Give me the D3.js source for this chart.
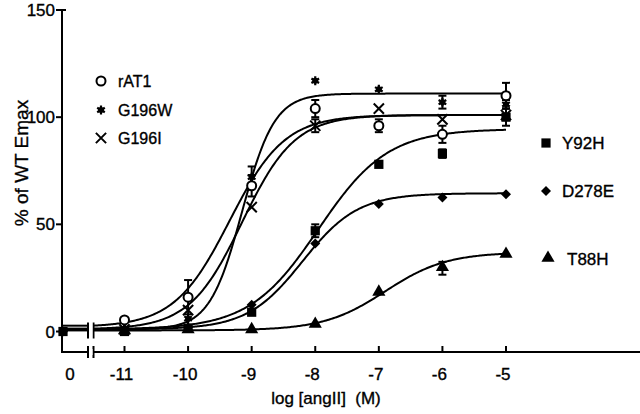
<!DOCTYPE html>
<html><head><meta charset="utf-8">
<script src="https://cdn.jsdelivr.net/npm/d3@7"></script>
<style>html,body{margin:0;padding:0;background:#fff;}svg{display:block;}text{font-family:"Liberation Sans",Arial,sans-serif;fill:#000;stroke:#000;stroke-width:0.35px;}</style>
</head><body>
<svg id="c" width="640" height="414"></svg>
<script>
// ---- data ----
const logConc = [-11, -10, -9, -8, -7, -6, -5];
const xTickLabels = ["0", "-11", "-10", "-9", "-8", "-7", "-6", "-5"];
const yTicks = [0, 50, 100, 150];
const seriesNames = ["rAT1", "G196W", "G196I", "Y92H", "D278E", "T88H"];
const rAT1  = [5.4, 16, 68, 104, 96, 92, 110];
const G196W = [1, 6, 72, 117, 113, 107, 106];
const G196I = [1, 10, 58, 96, 104, 99, 101];
const Y92H  = [0, 1.5, 9, 47, 78, 83, 100];
const D278E = [0.5, 2, 12.5, 41, 59.5, 62.5, 64];
const T88H  = [0, 0.5, 0.5, 3, 18, 29.5, 35.7];
const rAT1Err  = [0, 8, 5, 4, 3, 4, 6];
const G196WErr = [0, 0, 5, 0, 0, 3, 2];
const G196IErr = [0, 0, 0, 3, 0, 0, 0];
const Y92HErr  = [0, 0, 0, 3, 0, 2, 4];
const D278EErr = [0, 0, 0, 0, 0, 0, 0];
const T88HErr  = [0, 0, 0, 0, 0, 3, 0];
const zeroDoseValues = [null, null, null, 0, 0, null];
// fitted dose-response curves (bottom, top, logEC50, Hill slope) estimated from the drawn lines
const fitBottom = [2, 1, 1, 1, 1, 0.5];
const fitTop    = [101, 111, 101, 94.5, 64.5, 37];
const fitLogEC50 = [-9.35, -9.15, -9.15, -7.95, -8.2, -6.9];
const fitHill   = [1.0, 1.7, 1.05, 0.8, 1.0, 0.9];

const values = [rAT1, G196W, G196I, Y92H, D278E, T88H];
const errors = [rAT1Err, G196WErr, G196IErr, Y92HErr, D278EErr, T88HErr];

const svg = d3.select("#c");
const x = d3.scaleLinear().domain([-11, -5]).range([124.5, 506]);
const y = d3.scaleLinear().domain([0, 150]).range([331.5, 10]);
const axisX = 62, axisY = 352;
const zeroPos = x.invert(70);       // "0" label position
const breakA = x.invert(88), breakB = x.invert(93.5);
const zeroDoseX = x.invert(axisX + 1);

// axes
svg.append("line").attr("x1", axisX).attr("x2", axisX).attr("y1", y(150)).attr("y2", axisY)
  .attr("stroke", "#000").attr("stroke-width", 2);
svg.append("line").attr("x1", axisX - 1).attr("x2", x(breakA)).attr("y1", axisY).attr("y2", axisY)
  .attr("stroke", "#000").attr("stroke-width", 2);
svg.append("line").attr("x1", x(breakB)).attr("x2", 640).attr("y1", axisY).attr("y2", axisY)
  .attr("stroke", "#000").attr("stroke-width", 2);
[breakA, breakB].forEach(b => {
  svg.append("line").attr("x1", x(b)).attr("x2", x(b)).attr("y1", axisY - 6).attr("y2", axisY + 6)
    .attr("stroke", "#000").attr("stroke-width", 2);
  svg.append("line").attr("x1", x(b)).attr("x2", x(b)).attr("y1", y(0) - 9).attr("y2", y(0) + 7)
    .attr("stroke", "#000").attr("stroke-width", 2);
});
// y ticks
yTicks.forEach(t => {
  svg.append("line").attr("x1", axisX - 6).attr("x2", axisX).attr("y1", y(t)).attr("y2", y(t))
    .attr("stroke", "#000").attr("stroke-width", 2);
  svg.append("text").attr("x", axisX - 7).attr("y", y(t)).attr("dy", "0.36em")
    .attr("text-anchor", "end").attr("font-size", 17).text(t);
});
svg.append("line").attr("x1", axisX).attr("x2", axisX + 4).attr("y1", y(150)).attr("y2", y(150))
  .attr("stroke", "#000").attr("stroke-width", 2);
// x ticks
const xTickPos = [zeroPos].concat(logConc);
xTickPos.forEach((v, i) => {
  if (i > 0) svg.append("line").attr("x1", x(v)).attr("x2", x(v)).attr("y1", axisY - 6).attr("y2", axisY)
    .attr("stroke", "#000").attr("stroke-width", 2);
  svg.append("text").attr("x", x(v) - (i > 0 ? 3 : 0)).attr("y", 380).attr("text-anchor", "middle")
    .attr("font-size", 17).text(xTickLabels[i]);
});
svg.append("text").attr("x", 326).attr("y", 404).attr("text-anchor", "middle").attr("font-size", 17)
  .attr("xml:space", "preserve").text("log [angII]  (M)");
svg.append("text").attr("transform", "translate(28,163) rotate(-90)").attr("text-anchor", "middle")
  .attr("font-size", 19).text("% of WT Emax");

// curves
const hill = i => v => fitBottom[i] + (fitTop[i] - fitBottom[i]) / (1 + Math.pow(10, fitHill[i] * (fitLogEC50[i] - v)));
const line = d3.line().x(d => x(d[0])).y(d => y(d[1])).curve(d3.curveLinear);
seriesNames.forEach((n, i) => {
  const f = hill(i);
  const pts = d3.range(breakB, -5.0001, 0.02).map(v => [v, f(v)]).concat([[-5, f(-5)]]);
  svg.append("path").attr("d", line(pts)).attr("fill", "none").attr("stroke", "#000").attr("stroke-width", 2);
  const y0 = f(breakB);
  svg.append("path").attr("d", line([[zeroDoseX - 0.02, y0], [breakA, y0]])).attr("fill", "none")
    .attr("stroke", "#000").attr("stroke-width", 2);
});
// white gap over break
svg.append("rect").attr("x", x(breakA) + 1).attr("width", x(breakB) - x(breakA) - 2)
  .attr("y", y(0) - 10).attr("height", 20).attr("fill", "#fff");
svg.append("rect").attr("x", x(breakA) + 1).attr("width", x(breakB) - x(breakA) - 2)
  .attr("y", axisY - 3).attr("height", 6).attr("fill", "#fff");

// markers
function marker(g, i, cx, cy) {
  const s = g.append("g").attr("transform", `translate(${cx},${cy})`);
  if (i === 0) s.append("circle").attr("r", 4.5).attr("fill", "#fff").attr("stroke", "#000").attr("stroke-width", 2);
  else if (i === 1) {
    s.append("path").attr("d", d3.symbol(d3.symbolAsterisk, 55)()).attr("fill", "none")
      .attr("stroke", "#000").attr("stroke-width", 2.2);
    s.append("circle").attr("r", 3).attr("fill", "#000");
  }
  else if (i === 2) s.append("path").attr("d", d3.symbol(d3.symbolTimes, 70)()).attr("fill", "none")
      .attr("stroke", "#000").attr("stroke-width", 2);
  else if (i === 3) s.append("path").attr("d", d3.symbol(d3.symbolSquare, 85)()).attr("fill", "#000");
  else if (i === 4) s.append("path").attr("d", d3.symbol(d3.symbolSquare, 50)()).attr("transform", "rotate(45)").attr("fill", "#000");
  else s.append("path").attr("d", d3.symbol(d3.symbolTriangle, 75)()).attr("transform", "translate(0,-1)").attr("fill", "#000");
}
const gm = svg.append("g");
// draw filled ones first so open circles stay visible
[3, 4, 5, 2, 1, 0].forEach(i => {
  values[i].forEach((v, k) => {
    const e = errors[i][k];
    if (e > 0) {
      const cx = x(logConc[k]);
      gm.append("line").attr("x1", cx).attr("x2", cx).attr("y1", y(v + e)).attr("y2", y(v - e))
        .attr("stroke", "#000").attr("stroke-width", 2);
      [v + e, v - e].forEach(w => gm.append("line").attr("x1", cx - 4).attr("x2", cx + 4)
        .attr("y1", y(w)).attr("y2", y(w)).attr("stroke", "#000").attr("stroke-width", 2));
    }
    marker(gm, i, x(logConc[k]), y(v));
  });
  if (zeroDoseValues[i] !== null) marker(gm, i, x(zeroDoseX), y(zeroDoseValues[i]));
});

// legends
const legLeft = [[101, 81], [101, 110], [101, 138]];
[0, 1, 2].forEach((i, k) => {
  marker(svg, i, legLeft[k][0], legLeft[k][1]);
  svg.append("text").attr("x", 118).attr("y", legLeft[k][1] + 6).attr("font-size", 16).text(seriesNames[i]);
});
const legRight = [[546, 143, 562], [546, 191, 562], [548, 259, 567]];
[3, 4, 5].forEach((i, k) => {
  marker(svg, i, legRight[k][0], legRight[k][1]);
  svg.append("text").attr("x", legRight[k][2]).attr("y", legRight[k][1] + 6).attr("font-size", 17).text(seriesNames[i]);
});
</script>
</body></html>
